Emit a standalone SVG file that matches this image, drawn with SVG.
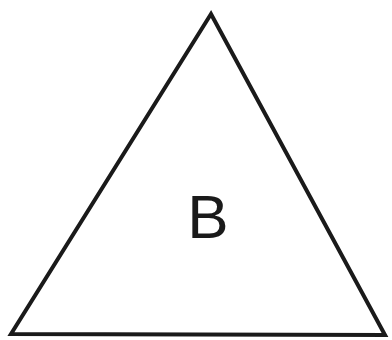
<svg xmlns="http://www.w3.org/2000/svg" width="392" height="340" viewBox="0 0 392 340">
<style>
.shape{fill:#ffffff;stroke:#1a1a1a;stroke-width:4;stroke-linejoin:miter}
.label{font-family:"Liberation Sans",Arial,sans-serif;font-size:62px;fill:#1a1a1a;text-anchor:middle}
</style>
<rect width="392" height="340" fill="#ffffff"/>
<g id="triangle">
<polygon class="shape" points="211,14 11,334 385,335"/>
<text class="label" x="208" y="238">B</text>
</g>
</svg>
